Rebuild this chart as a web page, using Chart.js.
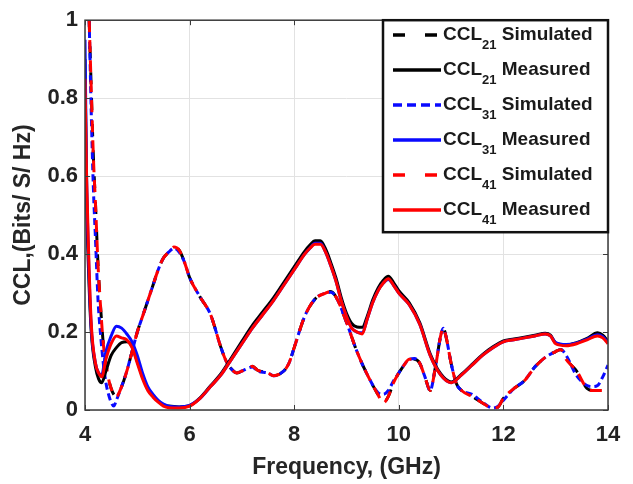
<!DOCTYPE html>
<html>
<head>
<meta charset="utf-8">
<script src="https://cdn.jsdelivr.net/npm/chart.js@4.4.1/dist/chart.umd.min.js"></script>
<style>
  html, body { margin: 0; padding: 0; background: #ffffff; }
  #wrap { width: 633px; height: 484px; position: relative; }
</style>
</head>
<body>
<div id="wrap"><canvas id="c" width="633" height="484"></canvas></div>
<script>
// ---- Data ----
const xTicks = [4, 6, 8, 10, 12, 14];
const yTicks = [0, 0.2, 0.4, 0.6, 0.8, 1];
const yTickLabels = ['0', '0.2', '0.4', '0.6', '0.8', '1'];

const measFreq = [4.0,4.03,4.07,4.12,4.2,4.26,4.32,4.4,4.5,4.6,
  4.7,4.8,4.9,5.0,5.1,5.2,5.3,5.4,5.5,5.6,
  5.8,6.0,6.2,6.4,6.6,6.8,7.0,7.2,7.4,7.6,
  7.8,8.0,8.2,8.3,8.4,8.5,8.6,8.7,8.8,8.9,
  9.0,9.1,9.2,9.3,9.4,9.5,9.6,9.7,9.8,9.9,
  10.0,10.2,10.4,10.6,10.8,11.0,11.2,11.4,11.6,11.8,
  12.0,12.2,12.4,12.6,12.8,12.9,13.0,13.2,13.4,13.6,
  13.8,13.9,14.0];

const ccl21Measured = [0.9,0.55,0.35,0.2,0.11,0.08,0.07,0.1,0.14,0.16,
  0.173,0.175,0.163,0.125,0.085,0.055,0.037,0.023,0.013,0.01,
  0.008,0.011,0.031,0.062,0.093,0.134,0.176,0.217,0.252,0.287,
  0.327,0.367,0.407,0.423,0.434,0.434,0.413,0.378,0.338,0.288,
  0.248,0.222,0.213,0.212,0.242,0.282,0.312,0.332,0.343,0.327,
  0.306,0.275,0.224,0.144,0.093,0.072,0.092,0.117,0.142,0.162,
  0.177,0.182,0.187,0.192,0.197,0.192,0.172,0.167,0.173,0.184,
  0.198,0.192,0.176];

const ccl31Measured = [0.95,0.6,0.38,0.21,0.12,0.095,0.09,0.15,0.19,0.215,
  0.21,0.195,0.175,0.14,0.095,0.06,0.04,0.025,0.015,0.01,
  0.008,0.012,0.03,0.06,0.09,0.13,0.17,0.21,0.245,0.28,
  0.32,0.36,0.4,0.415,0.428,0.428,0.405,0.37,0.33,0.28,
  0.24,0.21,0.2,0.198,0.235,0.275,0.305,0.325,0.335,0.32,
  0.3,0.27,0.22,0.14,0.09,0.07,0.09,0.115,0.14,0.16,
  0.175,0.18,0.185,0.19,0.195,0.19,0.173,0.168,0.172,0.182,
  0.193,0.188,0.172];

const ccl41Measured = [0.85,0.6,0.4,0.22,0.12,0.095,0.085,0.13,0.17,0.19,
  0.185,0.18,0.16,0.12,0.08,0.05,0.033,0.02,0.01,0.006,
  0.005,0.01,0.03,0.06,0.09,0.13,0.17,0.21,0.245,0.28,
  0.32,0.36,0.4,0.415,0.425,0.425,0.405,0.37,0.33,0.28,
  0.24,0.21,0.2,0.195,0.235,0.275,0.305,0.325,0.337,0.32,
  0.3,0.27,0.22,0.14,0.09,0.07,0.09,0.115,0.14,0.16,
  0.175,0.18,0.185,0.19,0.195,0.19,0.17,0.165,0.17,0.18,
  0.19,0.185,0.17];

const simFreq = [4.08,4.12,4.16,4.2,4.25,4.3,4.35,4.4,4.45,4.5,4.55,4.6,
  4.7,4.8,4.9,5.0,5.1,5.2,5.3,5.4,5.5,5.6,5.7,5.8,5.9,
  6.0,6.2,6.4,6.6,
  6.7,6.8,6.9,7.0,
  7.2,7.3,7.5,7.6,7.8,7.9,
  8.0,8.2,8.4,8.6,8.7,8.8,
  9.0,9.2,9.4,9.6,9.7,9.8,9.9,
  10.0,10.1,10.2,10.3,10.4,10.5,10.6,10.7,10.8,
  10.85,10.9,
  11.0,11.1,11.2,11.4,11.6,11.8,11.9,
  12.0,12.2,12.4,12.6,12.8,
  13.0,13.1,13.2,13.4,13.6,13.7,13.8,13.9,14.0];

const ccl21Simulated = [1.0,0.82,0.65,0.53,0.37,0.26,0.17,0.12,0.08,0.055,0.04,0.035,
  0.06,0.1,0.15,0.2,0.24,0.28,0.32,0.36,0.39,0.405,0.418,0.41,0.38,
  0.34,0.29,0.245,0.16,
  0.125,0.105,0.095,0.1,
  0.112,0.102,0.095,0.088,0.1,0.12,
  0.16,0.24,0.285,0.3,0.304,0.29,
  0.225,0.15,0.09,0.04,0.018,0.035,0.07,
  0.095,0.115,0.13,0.13,0.12,0.085,0.05,0.11,0.19,
  0.21,0.19,
  0.12,0.068,0.05,0.035,0.018,0.005,0.008,
  0.03,0.055,0.075,0.11,0.135,
  0.15,0.155,0.13,0.1,0.055,0.05,0.05,0.05,null];

const ccl31Simulated = [1.0,0.76,0.57,0.44,0.28,0.19,0.12,0.07,0.04,0.02,0.01,0.025,
  0.06,0.1,0.15,0.2,0.24,0.28,0.32,0.36,0.39,0.405,0.415,0.405,0.38,
  0.34,0.29,0.245,0.16,
  0.125,0.105,0.095,0.1,
  0.11,0.1,0.095,0.088,0.1,0.12,
  0.16,0.24,0.285,0.3,0.302,0.29,
  0.225,0.15,0.09,0.045,0.04,0.05,0.075,
  0.095,0.115,0.13,0.132,0.12,0.085,0.05,0.11,0.19,
  0.21,0.19,
  0.12,0.068,0.05,0.04,0.02,0.005,0.01,
  0.025,0.055,0.075,0.11,0.135,
  0.15,0.155,0.14,0.088,0.063,0.06,0.063,0.085,0.115];

const ccl41Simulated = [1.0,0.82,0.65,0.53,0.37,0.26,0.17,0.12,0.08,0.055,0.04,0.035,
  0.06,0.1,0.15,0.2,0.24,0.28,0.32,0.36,0.39,0.405,0.418,0.41,0.38,
  0.34,0.29,0.245,0.16,
  0.125,0.105,0.095,0.1,
  0.112,0.102,0.095,0.088,0.1,0.12,
  0.16,0.24,0.285,0.3,0.304,0.29,
  0.225,0.15,0.09,0.04,0.018,0.035,0.07,
  0.095,0.115,0.13,0.13,0.12,0.085,0.05,0.11,0.19,
  0.21,0.19,
  0.12,0.068,0.05,0.035,0.018,0.005,0.008,
  0.03,0.055,0.075,0.11,0.135,
  0.15,0.155,0.13,0.1,0.055,0.05,0.05,0.05,null];

const legendLabels = [
  {base: 'CCL', sub: '21', rest: ' Simulated'},
  {base: 'CCL', sub: '21', rest: ' Measured'},
  {base: 'CCL', sub: '31', rest: ' Simulated'},
  {base: 'CCL', sub: '31', rest: ' Measured'},
  {base: 'CCL', sub: '41', rest: ' Simulated'},
  {base: 'CCL', sub: '41', rest: ' Measured'}
];

// ---- helpers ----
function pts(xs, ys) {
  return xs.map((x, i) => ({x: x, y: ys[i]}));
}

const FONT = "'Liberation Sans', Arial, sans-serif";

const series = [
  {data: pts(simFreq, ccl21Simulated), color: '#000000', dash: [12, 14], order: 6, legendDash: [12, 20]},
  {data: pts(measFreq, ccl21Measured), color: '#000000', dash: [], order: 3, legendDash: []},
  {data: pts(simFreq, ccl31Simulated), color: '#0a0aff', dash: [7, 4], order: 5, legendDash: [9, 5]},
  {data: pts(measFreq, ccl31Measured), color: '#0a0aff', dash: [], order: 2, legendDash: []},
  {data: pts(simFreq, ccl41Simulated), color: '#ff0000', dash: [12, 8], order: 4, legendDash: [12, 20]},
  {data: pts(measFreq, ccl41Measured), color: '#ff0000', dash: [], order: 1, legendDash: []}
];

const framePlugin = {
  id: 'frameAndLegend',
  afterDatasetsDraw(chart) {
    const {ctx, chartArea: a, scales} = chart;
    ctx.save();
    // axes box
    ctx.strokeStyle = '#3a3a3a';
    ctx.lineWidth = 1.5;
    ctx.strokeRect(a.left, a.top, a.right - a.left, a.bottom - a.top);
    // inward ticks
    ctx.lineWidth = 1;
    ctx.beginPath();
    xTicks.forEach(v => {
      const px = Math.round(scales.x.getPixelForValue(v)) + 0.5;
      ctx.moveTo(px, a.bottom); ctx.lineTo(px, a.bottom - 5);
      ctx.moveTo(px, a.top); ctx.lineTo(px, a.top + 5);
    });
    yTicks.forEach(v => {
      const py = Math.round(scales.y.getPixelForValue(v)) + 0.5;
      ctx.moveTo(a.left, py); ctx.lineTo(a.left + 5, py);
      ctx.moveTo(a.right, py); ctx.lineTo(a.right - 5, py);
    });
    ctx.stroke();

    // legend box
    const lx = 383, ly = a.top, lw = a.right - 383, lh = 212;
    ctx.fillStyle = '#ffffff';
    ctx.fillRect(lx, ly, lw, lh);
    ctx.strokeStyle = '#111111';
    ctx.lineWidth = 2.5;
    ctx.strokeRect(lx, ly, lw, lh);

    const rowY0 = 35, rowStep = 35;
    series.forEach((s, i) => {
      const y = rowY0 + i * rowStep;
      ctx.save();
      ctx.strokeStyle = s.color;
      ctx.lineWidth = 3.5;
      ctx.setLineDash(s.legendDash);
      ctx.beginPath();
      ctx.moveTo(393, y);
      ctx.lineTo(441, y);
      ctx.stroke();
      ctx.restore();

      const lab = legendLabels[i];
      ctx.fillStyle = '#1a1a1a';
      ctx.textBaseline = 'middle';
      ctx.textAlign = 'left';
      ctx.font = 'bold 19px ' + FONT;
      let x = 443;
      ctx.fillText(lab.base, x, y);
      x += ctx.measureText(lab.base).width;
      ctx.font = 'bold 13px ' + FONT;
      ctx.fillText(lab.sub, x, y + 10);
      x += ctx.measureText(lab.sub).width;
      ctx.font = 'bold 19px ' + FONT;
      ctx.fillText(lab.rest, x, y);
    });
    ctx.restore();
  }
};

const ctx = document.getElementById('c').getContext('2d');
new Chart(ctx, {
  type: 'line',
  data: {
    datasets: series.map((s, i) => ({
      label: legendLabels[i].base + legendLabels[i].sub + legendLabels[i].rest,
      data: s.data,
      borderColor: s.color,
      backgroundColor: s.color,
      borderWidth: 3,
      borderDash: s.dash,
      pointRadius: 0,
      fill: false,
      tension: 0.3,
      cubicInterpolationMode: 'monotone',
      spanGaps: false,
      order: s.order
    }))
  },
  options: {
    responsive: false,
    animation: false,
    devicePixelRatio: 1,
    layout: {padding: {left: 0, top: 15, right: 25, bottom: 0}},
    plugins: {
      legend: {display: false},
      tooltip: {enabled: false}
    },
    scales: {
      x: {
        type: 'linear',
        min: 4, max: 14,
        afterBuildTicks(scale) { scale.ticks = xTicks.map(v => ({value: v})); },
        afterFit(scale) { scale.height = 74; },
        grid: {color: '#e2e2e2', lineWidth: 1, drawTicks: false},
        border: {display: false},
        ticks: {
          padding: 12,
          color: '#222222',
          font: {family: FONT, size: 22, weight: 'bold'},
          maxRotation: 0
        },
        title: {
          display: true,
          text: 'Frequency, (GHz)',
          color: '#262626',
          font: {family: FONT, size: 23, weight: 'bold'},
          padding: {top: 0, bottom: 3}
        }
      },
      y: {
        type: 'linear',
        min: 0, max: 1,
        afterBuildTicks(scale) { scale.ticks = yTicks.map(v => ({value: v})); },
        afterFit(scale) { scale.width = 85; },
        grid: {color: '#e2e2e2', lineWidth: 1, drawTicks: false},
        border: {display: false},
        ticks: {
          padding: 7,
          color: '#222222',
          font: {family: FONT, size: 22, weight: 'bold'},
          callback(value) {
            const idx = yTicks.findIndex(t => Math.abs(t - value) < 1e-9);
            return idx >= 0 ? yTickLabels[idx] : '';
          }
        },
        title: {
          display: true,
          text: 'CCL,(Bits/ S/ Hz)',
          color: '#262626',
          font: {family: FONT, size: 23, weight: 'bold'},
          padding: {top: 10, bottom: 0}
        }
      }
    }
  },
  plugins: [framePlugin]
});
</script>
</body>
</html>
